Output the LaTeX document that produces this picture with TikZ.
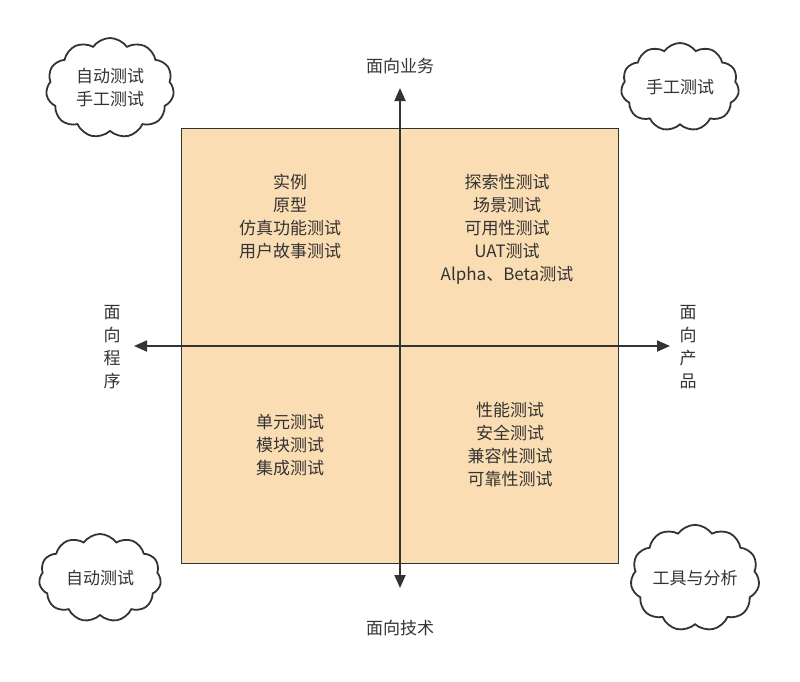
\documentclass[tikz,border=0pt]{standalone}
\usepackage{fontspec}
\setmainfont{Noto Sans CJK SC}
\usetikzlibrary{shapes.symbols,arrows.meta}
\definecolor{fillc}{HTML}{FBDDB4}
\definecolor{txt}{HTML}{333333}
\begin{document}
\begin{tikzpicture}[x=1pt,y=-1pt,
  t/.style={text=txt,font=\fontsize{17}{23}\selectfont,align=center},
  cl/.style={cloud,cloud puffs=11,cloud puff arc=110,draw=txt,line width=1.8pt,fill=white,t,aspect=1.3,inner sep=0pt},
  ax/.style={line width=1.8pt,draw=txt,-{Triangle[length=13pt,width=11pt]}}]
\useasboundingbox (0,0) rectangle (800,681);
\node[draw=txt,line width=1.8pt,fill=fillc,minimum width=437pt,minimum height=435pt,inner sep=0] (sq) at (400,346) {};
\coordinate (c) at (400,346);
\coordinate (top) at (400,88);
\coordinate (bot) at (400,588);
\coordinate (lft) at (134,346);
\coordinate (rgt) at (670,346);
\draw[ax] (c) -- (top);
\draw[ax] (c) -- (bot);
\draw[ax] (c) -- (lft);
\draw[ax] (c) -- (rgt);
\node[t] (lt) at (400,66) {面向业务};
\node[t] (lb) at (400,628) {面向技术};
\node[t,text width=20pt] (ll) at (112,347) {面\\向\\程\\序};
\node[t,text width=20pt] (lr) at (688,347) {面\\向\\产\\品};
\node[t] (q1) at (290,217) {实例\\原型\\仿真功能测试\\用户故事测试};
\node[t] (q2) at (507,229) {探索性测试\\场景测试\\可用性测试\\UAT测试\\Alpha、Beta测试};
\node[t] (q3) at (290,445) {单元测试\\模块测试\\集成测试};
\node[t] (q4) at (510,445) {性能测试\\安全测试\\兼容性测试\\可靠性测试};
\node[cl,minimum width=128pt,minimum height=100pt] (c1) at (110,88) {自动测试\\手工测试};
\node[cl,minimum width=118pt,minimum height=88pt] (c2) at (680,87) {手工测试};
\node[cl,minimum width=122pt,minimum height=88pt] (c3) at (100,578) {自动测试};
\node[cl,minimum width=122pt,minimum height=88pt] (c4) at (695,578) {工具与分析};
\end{tikzpicture}
\end{document}
